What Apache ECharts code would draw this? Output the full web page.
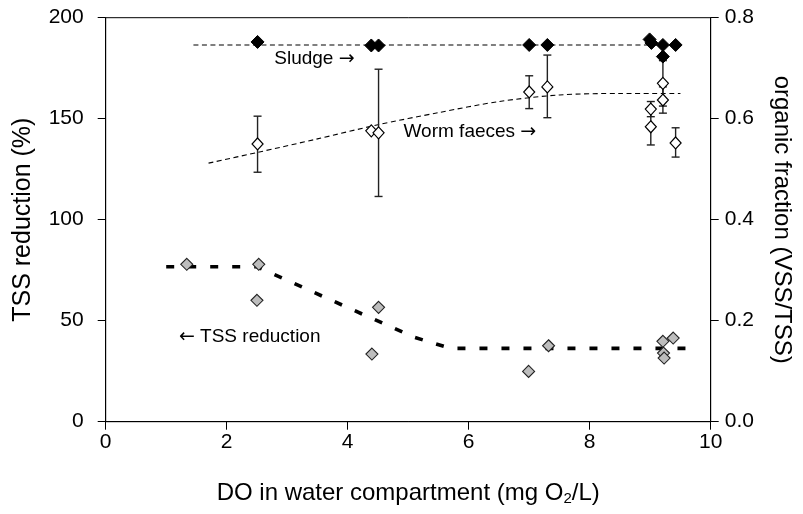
<!DOCTYPE html>
<html>
<head>
<meta charset="utf-8">
<script src="https://cdn.jsdelivr.net/npm/echarts@6/dist/echarts.min.js"></script>
<style>
  html, body { margin: 0; padding: 0; background: #fff; }
  #chart { width: 803px; height: 514px; }
</style>
</head>
<body>
<div id="chart"></div>
<script>
// TSS reduction (%) against dissolved oxygen, left axis
const tssPoints = [
  [1.34, 77.9], [2.53, 77.9], [2.50, 60.1], [4.51, 56.6], [4.40, 33.5],
  [6.99, 24.9], [7.32, 37.6], [9.21, 39.8], [9.38, 41.4], [9.22, 34.0], [9.23, 31.5]
];
const tssTrend = [[1.0, 76.7], [2.5, 76.7], [4.0, 56.5], [5.1, 41.8], [5.7, 36.3], [9.8, 36.3]];

// organic fraction (VSS/TSS) of sludge, right axis
const sludgePoints = [
  [2.51, 0.752], [4.39, 0.745], [4.51, 0.745], [7.00, 0.746], [7.30, 0.746],
  [8.99, 0.757], [9.02, 0.750], [9.21, 0.746], [9.42, 0.746], [9.21, 0.723]
];
const sludgeTrend = [[1.45, 0.746], [9.49, 0.746]];

// organic fraction of worm faeces: x, mean, lower, upper
const faecesPoints = [
  [2.51, 0.550, 0.494, 0.605],
  [4.39, 0.576, null, null],
  [4.51, 0.572, 0.446, 0.698],
  [7.00, 0.653, 0.620, 0.685],
  [7.30, 0.663, 0.602, 0.726],
  [9.01, 0.619, 0.604, 0.634],
  [9.01, 0.584, 0.548, 0.620],
  [9.21, 0.670, 0.625, 0.715],
  [9.21, 0.637, 0.611, 0.663],
  [9.42, 0.552, 0.524, 0.582]
];
const faecesTrend = [
  [1.7, 0.512], [2.5, 0.533], [3.5, 0.560], [4.5, 0.588], [5.5, 0.612],
  [6.5, 0.634], [7.5, 0.647], [8.5, 0.650], [9.5, 0.650]
];

// in-plot annotations (arrows drawn in a wider glyph via rich text)
const notesRight = [
  { value: [3.45, 0.718], text: 'Sludge {arr|\u2192}' },
  { value: [6.02, 0.574], text: 'Worm faeces {arr|\u2192}' }
];
const notesLeft = [
  { value: [2.38, 41.9], text: '{arr|\u2190} TSS reduction' }
];

const xTitle = 'DO in water compartment (mg O{sub|2}/L)';
const yLeftTitle = 'TSS reduction (%)';
const yRightTitle = 'organic fraction (VSS/TSS)';

const FONT = 'Liberation Sans, Arial, sans-serif';
const INK = '#000';

const chart = echarts.init(document.getElementById('chart'), null, { renderer: 'canvas' });

const errorBars = faecesPoints.filter(p => p[2] !== null).map(p => [p[0], p[2], p[3]]);

const noteLabel = {
  show: true, position: 'inside', fontSize: 19, color: INK, fontFamily: FONT,
  textBorderWidth: 0, textBorderColor: 'transparent', opacity: 1,
  rich: { arr: { fontSize: 19, fontFamily: 'DejaVu Sans', color: INK } }
};

chart.setOption({
  animation: false,
  backgroundColor: '#ffffff',
  textStyle: { fontFamily: FONT, color: INK },
  grid: {
    left: 105.7, right: 92.3, top: 17.7, bottom: 92.3,
    show: true, borderColor: '#000', borderWidth: 1, backgroundColor: 'transparent'
  },
  xAxis: {
    type: 'value', min: 0, max: 10, interval: 2,
    name: xTitle, nameLocation: 'middle', nameGap: 58,
    nameTextStyle: {
      fontSize: 24, color: INK, fontFamily: FONT,
      rich: { sub: { fontSize: 15, verticalAlign: 'bottom', padding: [12, 0, 0, 0], fontFamily: FONT, color: INK } }
    },
    axisLine: { show: true, onZero: false, lineStyle: { color: '#000', width: 1 } },
    axisTick: { show: true, inside: false, length: 8, lineStyle: { color: '#000' } },
    axisLabel: { fontSize: 21, color: INK, margin: 10, fontFamily: FONT },
    splitLine: { show: false }
  },
  yAxis: [
    {
      type: 'value', min: 0, max: 200, interval: 50, position: 'left',
      name: yLeftTitle, nameLocation: 'middle', nameGap: 70, nameRotate: 90,
      nameTextStyle: { fontSize: 25, color: INK, fontFamily: FONT },
      axisLine: { show: true, onZero: false, lineStyle: { color: '#000', width: 1 } },
      axisTick: { show: true, inside: false, length: 8, lineStyle: { color: '#000' } },
      axisLabel: { fontSize: 21, color: INK, margin: 22, fontFamily: FONT },
      splitLine: { show: false }
    },
    {
      type: 'value', min: 0, max: 0.8, interval: 0.2, position: 'right',
      name: yRightTitle, nameLocation: 'middle', nameGap: 59, nameRotate: -90,
      nameTextStyle: { fontSize: 24, color: INK, fontFamily: FONT },
      axisLine: { show: true, onZero: false, lineStyle: { color: '#000', width: 1 } },
      axisTick: { show: true, inside: false, length: 8, lineStyle: { color: '#000' } },
      axisLabel: { fontSize: 21, color: INK, margin: 14, fontFamily: FONT,
        formatter: v => v.toFixed(1) },
      splitLine: { show: false }
    }
  ],
  series: [
    {
      name: 'TSS trend', type: 'line', yAxisIndex: 0, data: tssTrend,
      showSymbol: false, symbol: 'none', z: 2,
      lineStyle: { color: '#000', width: 3.6, type: [8, 14] }
    },
    {
      name: 'Sludge trend', type: 'line', yAxisIndex: 1, data: sludgeTrend,
      showSymbol: false, symbol: 'none', z: 2,
      lineStyle: { color: '#000', width: 1.1, type: [5, 3.5] }
    },
    {
      name: 'Faeces trend', type: 'line', yAxisIndex: 1, data: faecesTrend,
      showSymbol: false, symbol: 'none', smooth: 0.3, z: 2,
      lineStyle: { color: '#000', width: 1.1, type: [5, 3.5] }
    },
    {
      name: 'Faeces error', type: 'custom', yAxisIndex: 1, data: errorBars, z: 3,
      renderItem: function (params, api) {
        const x = api.value(0);
        const lo = api.coord([x, api.value(1)]);
        const hi = api.coord([x, api.value(2)]);
        const cap = 4;
        const style = { stroke: '#222', lineWidth: 1.4 };
        return {
          type: 'group',
          children: [
            { type: 'line', shape: { x1: lo[0], y1: lo[1], x2: hi[0], y2: hi[1] }, style },
            { type: 'line', shape: { x1: lo[0] - cap, y1: lo[1], x2: lo[0] + cap, y2: lo[1] }, style },
            { type: 'line', shape: { x1: hi[0] - cap, y1: hi[1], x2: hi[0] + cap, y2: hi[1] }, style }
          ]
        };
      }
    },
    {
      name: 'TSS reduction', type: 'scatter', yAxisIndex: 0, data: tssPoints,
      symbol: 'diamond', symbolSize: [12, 12], z: 5,
      itemStyle: { color: '#bdbdbd', borderColor: '#222', borderWidth: 1.1, opacity: 1 }
    },
    {
      name: 'Sludge', type: 'scatter', yAxisIndex: 1, data: sludgePoints,
      symbol: 'diamond', symbolSize: [13, 13], z: 5,
      itemStyle: { color: '#000', borderColor: '#000', borderWidth: 1, opacity: 1 }
    },
    {
      name: 'Worm faeces', type: 'scatter', yAxisIndex: 1,
      data: faecesPoints.map(p => [p[0], p[1]]),
      symbol: 'diamond', symbolSize: [11, 12], z: 6,
      itemStyle: { color: '#fff', borderColor: '#000', borderWidth: 1.2, opacity: 1 }
    },
    {
      name: 'Notes right', type: 'scatter', yAxisIndex: 1, symbolSize: 0, z: 7,
      itemStyle: { opacity: 1 },
      data: notesRight.map(n => ({ value: n.value, label: { formatter: n.text } })),
      label: noteLabel,
      silent: true
    },
    {
      name: 'Notes left', type: 'scatter', yAxisIndex: 0, symbolSize: 0, z: 7,
      itemStyle: { opacity: 1 },
      data: notesLeft.map(n => ({ value: n.value, label: { formatter: n.text } })),
      label: noteLabel,
      silent: true
    }
  ]
});
</script>
</body>
</html>
